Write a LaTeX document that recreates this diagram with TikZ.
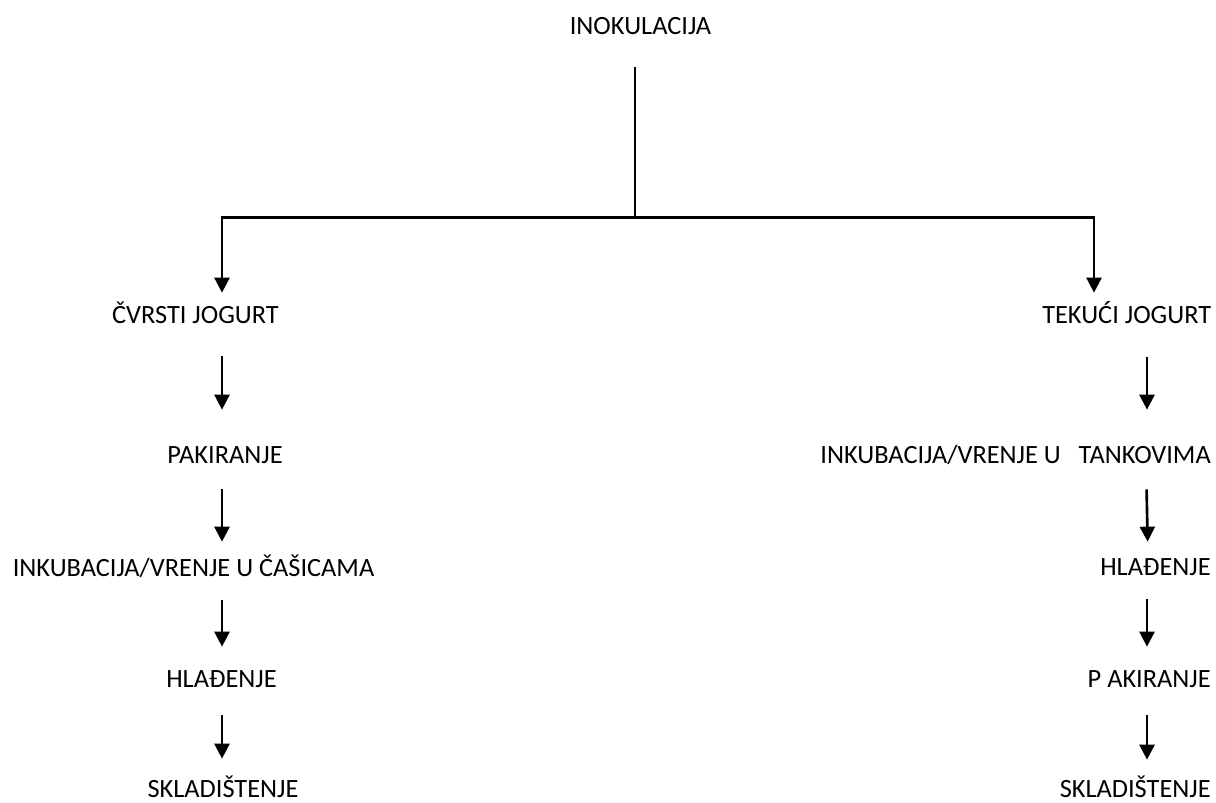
\documentclass[tikz,border=0pt]{standalone}
\usepackage{fontspec}
\setmainfont{Carlito}
\usepackage{tikz}
\usetikzlibrary{calc,positioning,arrows.meta}
\newlength\pxu
\setlength\pxu{0.02cm}

\begin{document}
\begin{tikzpicture}[x=0.02cm,y=-0.02cm,
    txt/.style={inner sep=0pt,text height=17\pxu,text depth=0pt,anchor=base,
                font=\fontsize{15pt}{18pt}\selectfont},
    rtxt/.style={txt,anchor=base east},
    arr/.style={line width=1.5pt,-{Triangle[width=0.3cm,length=0.3cm]}},
    stem/.style={line width=0.9pt}]
    \useasboundingbox (0,0) rectangle (1216,803);
    \coordinate (split) at (635,217.5);
    \coordinate (lcol) at (222,0);
    \coordinate (rfork) at (1094,0);
    \coordinate (rcol) at (1147,0);

    \node[txt] (inok) at (640.5,35) {INOKULACIJA};
    \node[txt] (cvrsti) at (195.5,324) {ČVRSTI JOGURT};
    \node[txt] (pakl) at (225,463) {PAKIRANJE};
    \node[txt] (inkl) at (193.5,576) {INKUBACIJA/VRENJE U ČAŠICAMA};
    \node[txt] (hladl) at (221.5,687) {HLAĐENJE};
    \node[txt] (skll) at (223,797) {SKLADIŠTENJE};
    \node[rtxt] (tekuci) at (1211.5,324) {TEKUĆI JOGURT};
    \node[rtxt] (inkr) at (1211,463) {INKUBACIJA/VRENJE U\ \ \ TANKOVIMA};
    \node[rtxt] (hladr) at (1211,575) {HLAĐENJE};
    \node[rtxt] (pakr) at (1211,687) {P AKIRANJE};
    \node[rtxt] (sklr) at (1211,797) {SKLADIŠTENJE};

    \draw[stem,shorten <=32\pxu] (inok.south -| split) -- (split);
    \draw[arr,shorten >=14\pxu] (split) -| (cvrsti.north -| lcol);
    \draw[arr,shorten >=14\pxu] (split) -| (tekuci.north -| rfork);

    \draw[arr,shorten <=32\pxu,shorten >=36\pxu] (cvrsti.south -| lcol) -- (pakl.north -| lcol);
    \draw[arr,shorten <=26\pxu,shorten >=17\pxu] (pakl.south -| lcol) -- (inkl.north -| lcol);
    \draw[arr,shorten <=24\pxu,shorten >=23\pxu] (inkl.south -| lcol) -- (hladl.north -| lcol);
    \draw[arr,shorten <=28\pxu,shorten >=21\pxu] (hladl.south -| lcol) -- (skll.north -| lcol);

    \draw[arr,shorten <=33\pxu,shorten >=36\pxu] (tekuci.south -| rcol) -- (inkr.north -| rcol);
    \draw[arr,shorten <=26\pxu,shorten >=16\pxu] ($(inkr.south -| rcol)+(-1,0)$) -- ($(hladr.north -| rcol)+(1,0)$);
    \draw[arr,shorten <=24\pxu,shorten >=23\pxu] (hladr.south -| rcol) -- (pakr.north -| rcol);
    \draw[arr,shorten <=28\pxu,shorten >=20\pxu] (pakr.south -| rcol) -- (sklr.north -| rcol);
\end{tikzpicture}
\end{document}
